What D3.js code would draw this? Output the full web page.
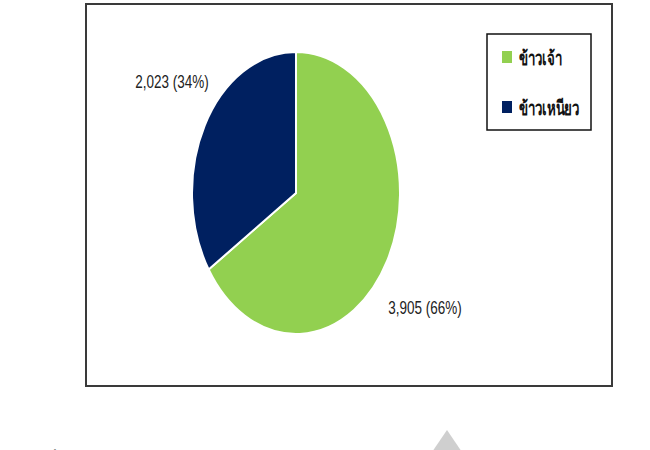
<!DOCTYPE html>
<html>
<head>
<meta charset="utf-8">
<script src="https://cdn.jsdelivr.net/npm/d3@7/dist/d3.min.js"></script>
<style>
  html, body { margin: 0; padding: 0; background: #fff; }
  svg { display: block; }
</style>
</head>
<body>
<svg id="chart" width="650" height="450"></svg>
<script>
// ---- data ----
const categories = ["ข้าวเจ้า", "ข้าวเหนียว"];
const values = [3905, 2023];
const valueLabels = ["3,905 (66%)", "2,023 (34%)"];
const colors = ["#92d050", "#002060"];

const svg = d3.select("#chart");

// outer frame
svg.append("rect")
  .attr("x", 86).attr("y", 4)
  .attr("width", 526).attr("height", 382)
  .attr("fill", "#fff")
  .attr("stroke", "#3a3a3a")
  .attr("stroke-width", 2);

// pie (elliptical, as in the reference)
const cx = 296, cy = 193, rx = 104, ry = 141;
const pie = d3.pie().sort(null).value(d => d)(values);
const arc = d3.arc().innerRadius(0).outerRadius(rx);

const g = svg.append("g")
  .attr("transform", `translate(${cx},${cy}) scale(1,${ry / rx})`);

g.selectAll("path")
  .data(pie)
  .join("path")
  .attr("d", arc)
  .attr("fill", (d, i) => colors[i])
  .attr("stroke", "#fff")
  .attr("stroke-width", 2)
  .attr("vector-effect", "non-scaling-stroke");

// data labels
const labelPos = [[425, 308], [172, 82]];
svg.selectAll("text.lbl")
  .data(valueLabels)
  .join("text")
  .attr("class", "lbl")
  .attr("transform", (d, i) => `translate(${labelPos[i][0]},${labelPos[i][1]}) scale(1,1.32)`)
  .attr("text-anchor", "middle")
  .attr("dominant-baseline", "central")
  .attr("font-family", "'Liberation Sans', Arial, sans-serif")
  .attr("font-size", 13.5)
  .attr("fill", "#222")
  .text(d => d);

// legend
const lg = svg.append("g");
lg.append("rect")
  .attr("x", 487).attr("y", 34)
  .attr("width", 104).attr("height", 96)
  .attr("fill", "#fff")
  .attr("stroke", "#111")
  .attr("stroke-width", 1.5);

const legendY = [57, 107];
categories.forEach((c, i) => {
  lg.append("rect")
    .attr("x", 502).attr("y", legendY[i] - 6)
    .attr("width", 10).attr("height", 12)
    .attr("fill", colors[i]);
  lg.append("text")
    .attr("transform", `translate(519,${legendY[i]}) scale(0.95,1.4)`)
    .attr("dominant-baseline", "central")
    .attr("font-family", "'Noto Sans', 'DejaVu Sans', sans-serif")
    .attr("font-weight", "bold")
    .attr("font-size", 14)
    .attr("fill", "#111")
    .text(c);
});

// cut-off caption below the chart and watermark fragment
svg.append("polygon")
  .attr("points", "447,430 466,458 447,482 428,458")
  .attr("fill", "#cfcfcf");

svg.append("text")
  .attr("x", 15).attr("y", 466)
  .attr("font-family", "'Noto Sans', sans-serif")
  .attr("font-weight", "bold")
  .attr("font-size", 16)
  .attr("fill", "#111")
  .text("ภาพที่ 1 ปริมาณการผลิตข้าวเจ้าและข้าวเหนียว");
</script>
</body>
</html>
